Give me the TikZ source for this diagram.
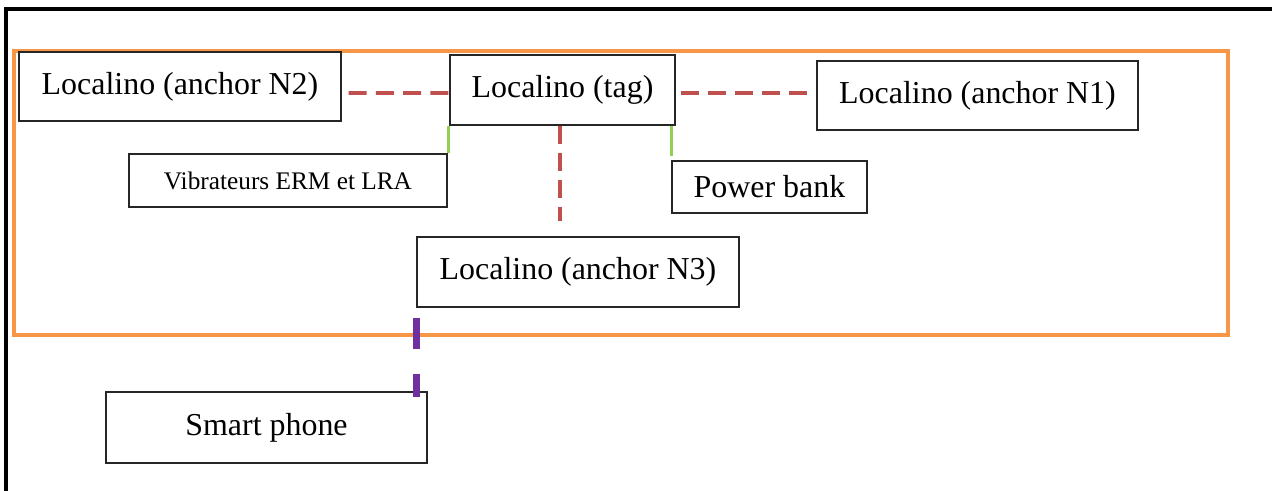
\documentclass[tikz,border=0pt]{standalone}
\usepackage{fontspec}
\setmainfont{Liberation Serif}
\usepackage{xcolor}

\begin{document}
\begin{tikzpicture}[x=0.025cm, y=-0.025cm,
    box/.style={draw=black!85, line width=0.9pt, inner sep=0pt, align=center,
        font=\fontsize{22.7}{27}\selectfont},
    smallbox/.style={box, font=\fontsize{18}{22}\selectfont},
    reddash/.style={draw=linkred, line width=2.8pt, dash pattern=on 0.45cm off 0.23cm},
    greenline/.style={draw=linkgreen, line width=2.2pt},
    purpledash/.style={draw=linkpurple, line width=5pt, dash pattern=on 0.775cm off 0.625cm, dash phase=1.15cm}]
    % Office-like accent colours
    \definecolor{linkred}{RGB}{192,80,77}
    \definecolor{linkgreen}{RGB}{146,208,80}
    \definecolor{linkpurple}{RGB}{112,48,160}
    \definecolor{frameorange}{RGB}{247,150,70}

    % Page size
    \useasboundingbox (0,0) rectangle (1272,491);

    % Cut frame (top and left only) and the orange group box
    \draw[black, line width=2.2pt] (6,491) -- (6,9) -- (1272,9);
    \draw[frameorange, line width=2.2pt] (14,51) rectangle (1228,335);

    % The boxes
    \node[box, minimum width=8.05cm, minimum height=1.725cm] (anchorNtwo) at (180,86.5) {Localino (anchor N2)};
    \node[box, minimum width=5.625cm, minimum height=1.75cm] (tag) at (562.5,90) {Localino (tag)};
    \node[box, minimum width=8.025cm, minimum height=1.725cm] (anchorNone) at (977.5,95.5) {Localino (anchor N1)};
    \node[smallbox, minimum width=7.95cm, minimum height=1.325cm] (vib) at (288,180.5) {Vibrateurs ERM et LRA};
    \node[box, minimum width=4.875cm, minimum height=1.3cm] (power) at (769.5,187) {Power bank};
    \node[box, minimum width=8.05cm, minimum height=1.75cm] (anchorNthree) at (578,272) {Localino (anchor N3)};
    \node[box, minimum width=8.025cm, minimum height=1.775cm] (phone) at (266.5,427.5) {Smart phone};

    % Radio links between the Localino boards
    \draw[reddash] ([shift={(7,6.5)}]anchorNtwo.east) -- ([yshift=-0.075cm]tag.west);
    \draw[reddash] ([shift={(5,3)}]tag.east) -- ([shift={(-9,-2.5)}]anchorNone.west);
    \draw[reddash, shorten >=0.375cm] ([xshift=-0.06cm]tag.south) -- ([xshift=-0.06cm]tag.south |- anchorNthree.north);

    % Wires to the vibrators and the power bank
    \draw[greenline] ([xshift=-0.03cm]tag.south west) -- ([xshift=-0.03cm]tag.south west |- vib.north);
    \draw[greenline, shorten >=0.1cm] (power.north west |- tag.south) -- (power.north west);

    % Link to the phone
    \draw[purpledash, shorten >=-0.15cm] (anchorNthree.south west) -- (anchorNthree.south west |- phone.north);

\end{tikzpicture}
\end{document}
